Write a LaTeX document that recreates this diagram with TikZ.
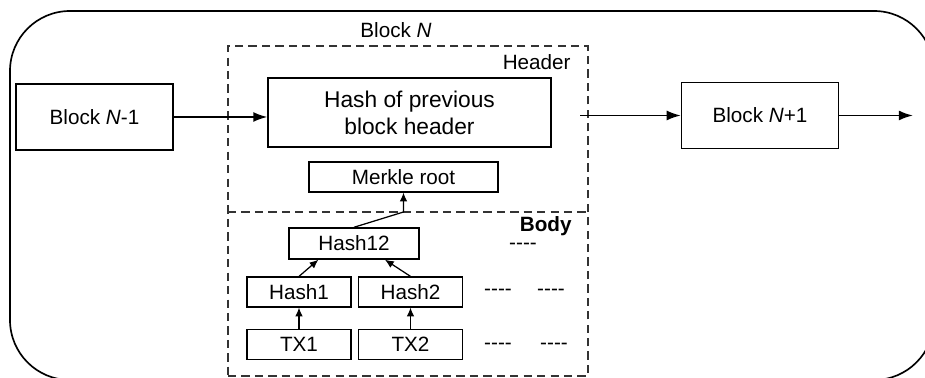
\documentclass[tikz,border=0pt]{standalone}
\usepackage{fontspec}
\setmainfont{Liberation Sans}
\usetikzlibrary{arrows.meta}

\begin{document}
\begin{tikzpicture}[
    x=0.017cm, y=-0.017cm,
    every node/.style={font=\fontsize{10}{12}\selectfont, align=center},
    box/.style={rectangle, draw=black, line width=0.6pt, inner sep=2pt},
    blk/.style={box, minimum width=2.67cm, minimum height=1.12cm},
    leaf/.style={box, minimum width=1.77cm, minimum height=0.51cm},
    part/.style={draw=black!80, line width=0.6pt, dash pattern=on 4pt off 2.5pt},
    arr/.style={-{Latex[length=2.4mm, width=1.7mm]}, line width=0.9pt},
    sarr/.style={-{Latex[length=1.5mm, width=1.3mm]}, line width=0.6pt},
    dots/.style={inner sep=0pt}
]
\useasboundingbox (0,0) rectangle (925,378);
\begin{scope}
  \clip (0,0) rectangle (925,378);
  \draw[line width=0.8pt, rounded corners=1.02cm] (10,11) rectangle (934,380);
\end{scope}

% block N with header and body
\node[part, minimum width=6.12cm, minimum height=5.61cm] (blockN) at (408,211) {};
\coordinate (split) at (228,212);
\draw[part] (split) -- (split -| blockN.east);
\node (lblN) at (396,30) {Block \textit{N}};
\node[inner sep=0pt, anchor=east] (hdr) at (571,62) {Header};
\node[inner sep=0pt, anchor=east] (bdy) at (572,226) {\textbf{Body}};

% chain
\node[blk] (prev) at (94.5,117) {Block \textit{N}-1};
\node[blk] (next) at (760,115.5) {Block \textit{N}+1};
\coordinate (out) at (913,115.5);
\node[box, minimum width=4.81cm, minimum height=1.17cm, font=\fontsize{11}{13}\selectfont] (hprev) at (409.5,112.5) {Hash of previous\\block header};
\node[box, minimum width=3.21cm, minimum height=0.51cm] (merkle) at (403.5,177) {Merkle root};

% merkle tree
\node[box, minimum width=2.21cm, minimum height=0.53cm] (h12) at (354,243.5) {Hash12};
\node[leaf] (h1) at (299,292) {Hash1};
\node[leaf] (h2) at (410.5,292) {Hash2};
\node[leaf] (tx1) at (299,344.5) {TX1};
\node[leaf] (tx2) at (410.5,344.5) {TX2};
\node[dots] (d0) at (523,246) {-{}-{}-{}-};
\node[dots] (d1) at (498,292) {-{}-{}-{}-};
\node[dots] (d2) at (551,292) {-{}-{}-{}-};
\node[dots] (d3) at (498,346) {-{}-{}-{}-};
\node[dots] (d4) at (554,346) {-{}-{}-{}-};

\draw[arr] (prev.east) -- (prev.east -| hprev.west);
\draw[arr] ([xshift=-0.14cm]blockN.east |- next.west) -- (next.west);
\draw[arr] (next.east) -- (out);
\draw[sarr] (tx1.north) -- (h1.south);
\draw[sarr] (tx2.north) -- (h2.south);
\draw[sarr] (h1.north) -- ([xshift=0.51cm]h12.south west);
\draw[sarr] (h2.north) -- ([xshift=-0.59cm]h12.south east);
\draw[sarr] (h12.north) -- (merkle.south |- split) -- (merkle.south);
\end{tikzpicture}
\end{document}
